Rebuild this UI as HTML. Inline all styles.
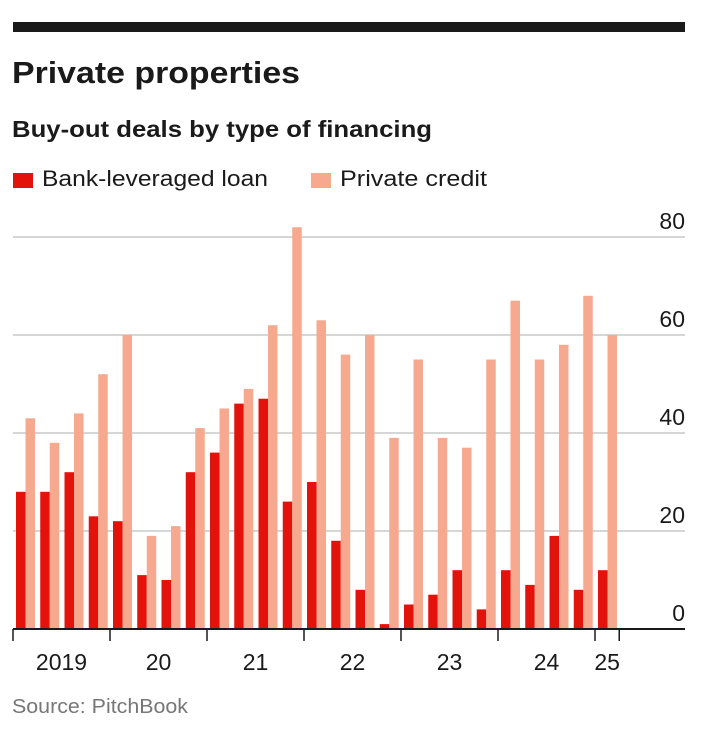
<!DOCTYPE html>
<html><head><meta charset="utf-8"><style>
body{margin:0;background:#fff;width:714px;height:738px;overflow:hidden;font-family:"Liberation Sans Narrow","Liberation Sans",sans-serif;}
</style></head><body>
<svg width="714" height="738">
<rect x="13" y="22" width="672" height="10" fill="#1a1a1a"/>
<text x="12" y="83" font-size="31" font-weight="bold" fill="#1a1a1a" textLength="288" lengthAdjust="spacingAndGlyphs">Private properties</text>
<text x="12" y="137" font-size="23" font-weight="bold" fill="#1a1a1a" textLength="420" lengthAdjust="spacingAndGlyphs">Buy-out deals by type of financing</text>
<rect x="13" y="173" width="20" height="15" fill="#e3120b"/>
<text x="42" y="186" font-size="22" fill="#1a1a1a" textLength="226" lengthAdjust="spacingAndGlyphs">Bank-leveraged loan</text>
<rect x="311" y="173" width="20" height="15" fill="#f6a98f"/>
<text x="340" y="186" font-size="22" fill="#1a1a1a" textLength="147" lengthAdjust="spacingAndGlyphs">Private credit</text>
<g id="grid"></g><g id="bars"></g><g id="axis"></g>
<text x="12" y="713" font-size="20" fill="#777" textLength="176" lengthAdjust="spacingAndGlyphs">Source: PitchBook</text>
</svg>
<script>
const quarters=["19Q1","19Q2","19Q3","19Q4","20Q1","20Q2","20Q3","20Q4","21Q1","21Q2","21Q3","21Q4","22Q1","22Q2","22Q3","22Q4","23Q1","23Q2","23Q3","23Q4","24Q1","24Q2","24Q3","24Q4","25Q1"];
const bankLoan=[28,28,32,23,22,11,10,32,36,46,47,26,30,18,8,1,5,7,12,4,12,9,19,8,12];
const privateCredit=[43,38,44,52,60,19,21,41,45,49,62,82,63,56,60,39,55,39,37,55,67,55,58,68,60];
const yTicks=[0,20,40,60,80];
const yearLabels=["2019","20","21","22","23","24","25"];
const NS="http://www.w3.org/2000/svg";
const x0=13,slot=24.25,base=629,topY=237,yMax=80;
const y=v=>base-(base-topY)*v/yMax;
const xq=i=>x0+i*slot;
function mk(t,a,p){const e=document.createElementNS(NS,t);for(const k in a)e.setAttribute(k,a[k]);document.getElementById(p).appendChild(e);return e;}
yTicks.forEach(t=>{
 if(t>0){const l=mk('line',{x1:13,x2:685,y1:y(t),y2:y(t),stroke:'#c9c9c9','stroke-width':1.5},'grid');
 
 }
 const tx=mk('text',{x:685,y:y(t)-8,'font-size':23,'text-anchor':'end',fill:'#1a1a1a'},'grid');tx.textContent=t;
 
 
});
quarters.forEach((q,i)=>{
 const r=mk('rect',{x:xq(i)+3,y:y(bankLoan[i]),width:9.5,height:base-y(bankLoan[i]),fill:'#e3120b'},'bars');
 
 
 const p=mk('rect',{x:xq(i)+12.5,y:y(privateCredit[i]),width:9.5,height:base-y(privateCredit[i]),fill:'#f6a98f'},'bars');
 
 
});
const ax=mk('line',{x1:13,x2:685,y1:base,y2:base,stroke:'#1a1a1a','stroke-width':2},'axis');


yearLabels.forEach((yl,k)=>{
 const tk=mk('line',{x1:xq(k*4),x2:xq(k*4),y1:base,y2:base+12,stroke:'#1a1a1a','stroke-width':1.5},'axis');
 
 
 const n=Math.min(4,quarters.length-k*4);
 const t=mk('text',{x:xq(k*4)+n*slot/2,y:670,'font-size':23,'text-anchor':'middle',fill:'#1a1a1a'},'axis');t.textContent=yl;
 
 
});
const tl=mk('line',{x1:xq(quarters.length),x2:xq(quarters.length),y1:base,y2:base+12,stroke:'#1a1a1a','stroke-width':1.5},'axis');


</script>
</body></html>
